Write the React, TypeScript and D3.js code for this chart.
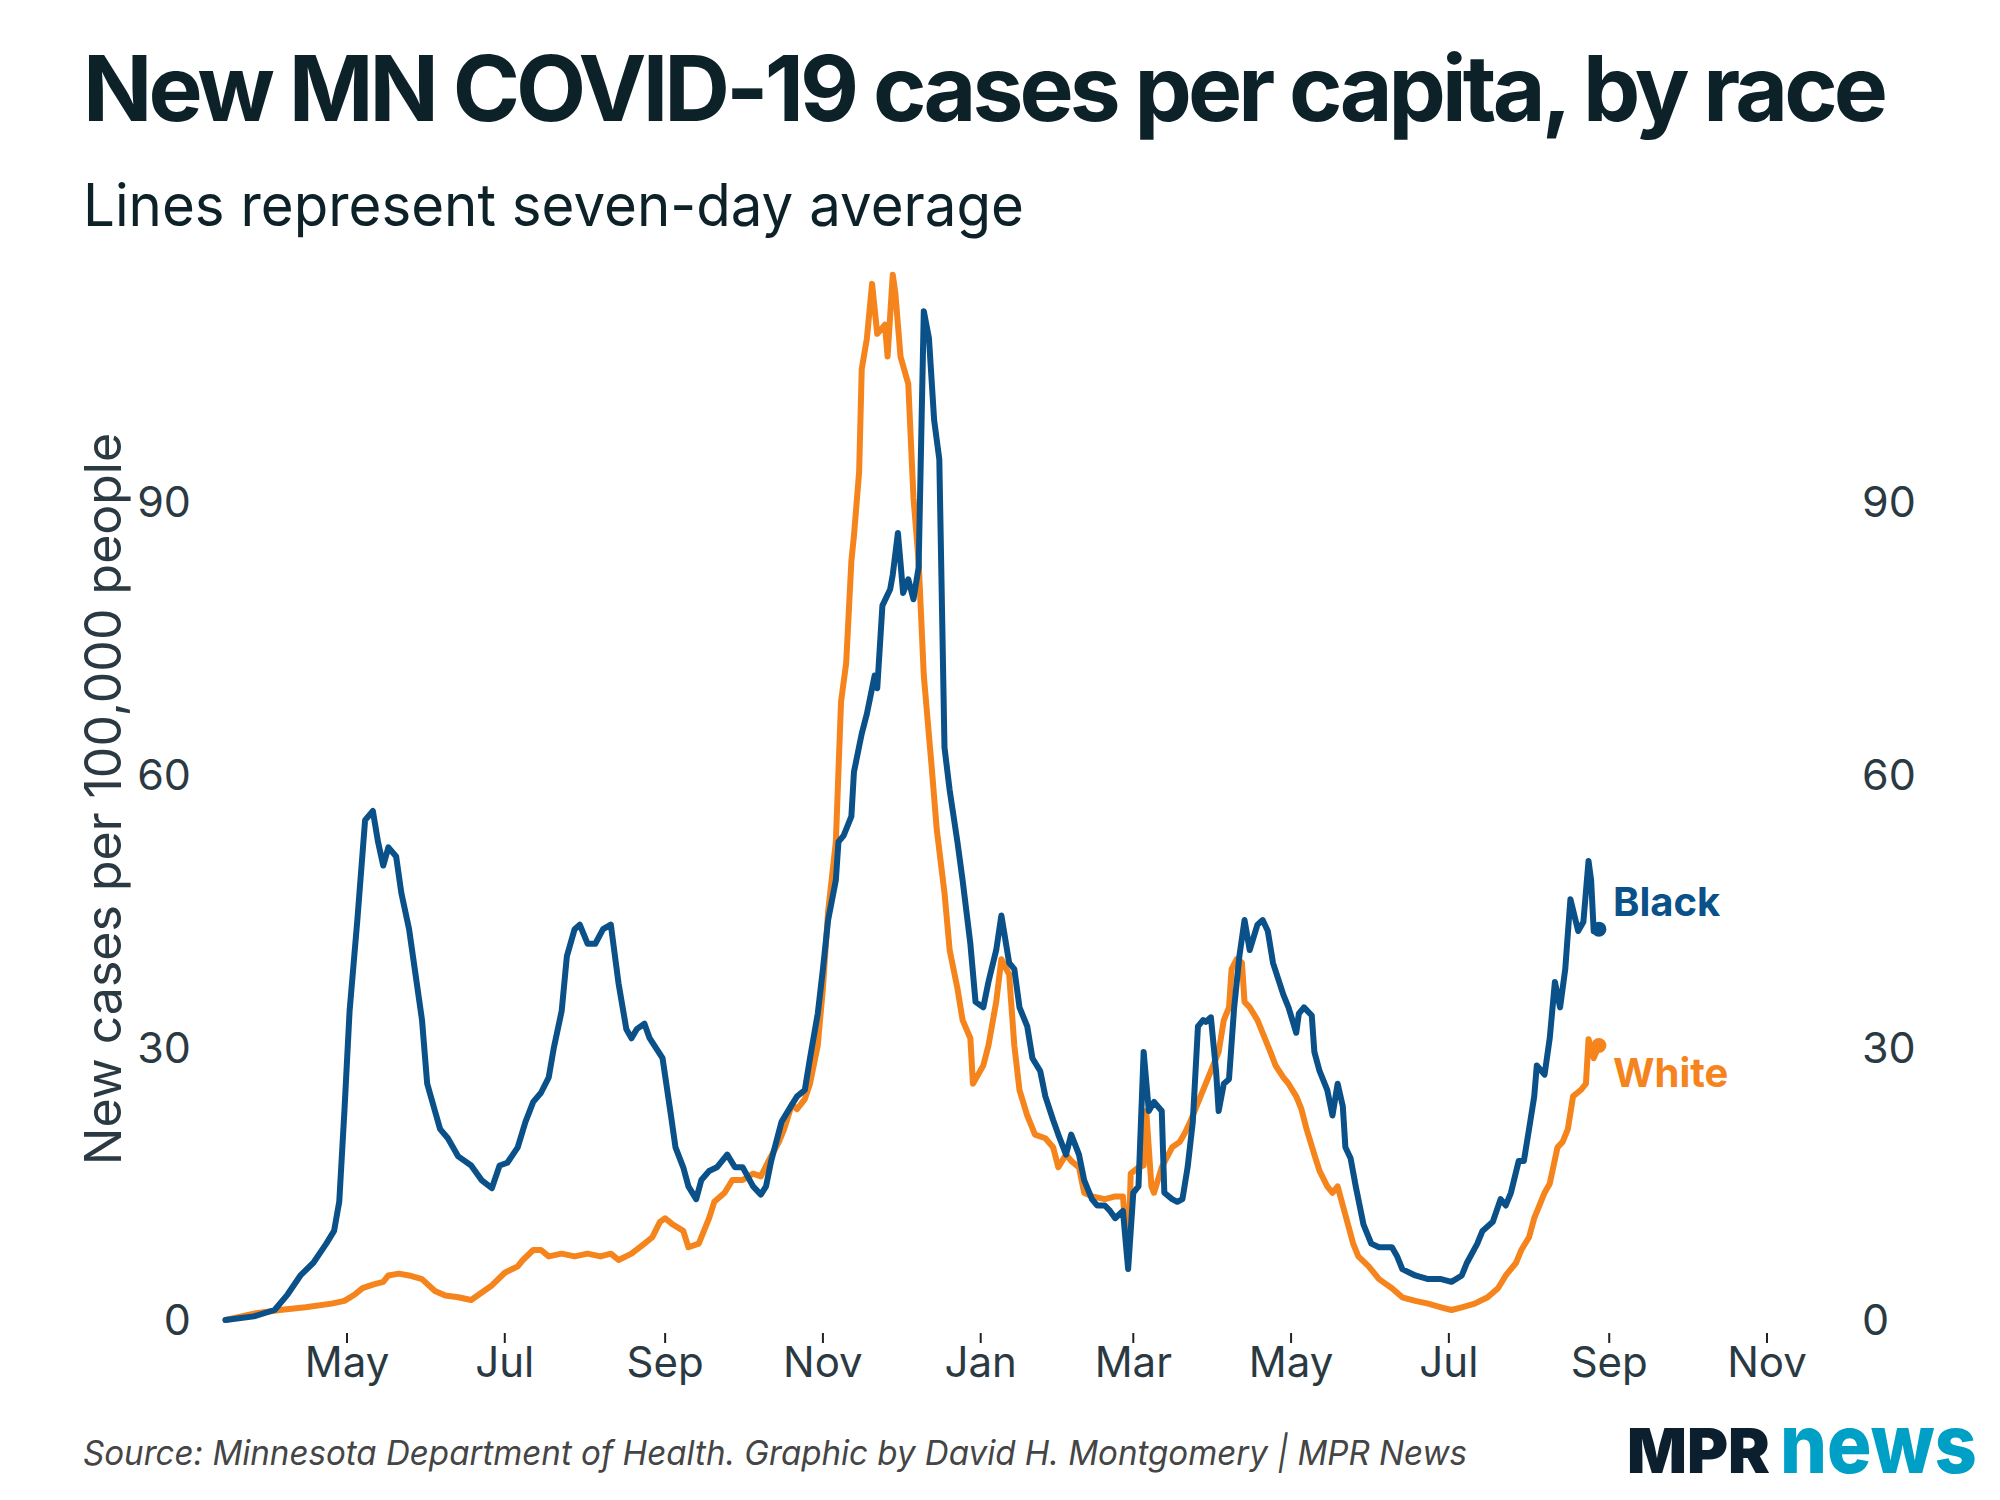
import React from "react";
import * as d3 from "d3";

// ---------- DATA ----------
const blackSeries: [string, number][] = [
  ["2020-03-15",0],["2020-03-26",0.4],["2020-04-03",1.1],["2020-04-08",2.8],["2020-04-13",4.9],["2020-04-18",6.3],["2020-04-23",8.4],["2020-04-26",9.8],["2020-04-28",13],["2020-04-30",23],["2020-05-02",34],["2020-05-05",44],["2020-05-08",55],["2020-05-11",56],["2020-05-13",52.6],["2020-05-15",50],["2020-05-17",52],["2020-05-20",51],["2020-05-22",47],["2020-05-25",43],["2020-05-27",39],["2020-05-30",33],["2020-06-01",26],["2020-06-04",23],["2020-06-06",21],["2020-06-09",20],["2020-06-13",18],["2020-06-18",17],["2020-06-22",15.4],["2020-06-26",14.5],["2020-06-29",17],["2020-07-02",17.3],["2020-07-06",19],["2020-07-09",21.8],["2020-07-12",24],["2020-07-15",25],["2020-07-18",26.7],["2020-07-20",30],["2020-07-23",34],["2020-07-25",40],["2020-07-28",43],["2020-07-30",43.5],["2020-08-02",41.4],["2020-08-05",41.4],["2020-08-08",43],["2020-08-11",43.5],["2020-08-14",37],["2020-08-17",32],["2020-08-19",31],["2020-08-21",32],["2020-08-24",32.6],["2020-08-26",31],["2020-08-31",28.8],["2020-09-03",23],["2020-09-05",19],["2020-09-08",16.8],["2020-09-10",14.7],["2020-09-13",13.3],["2020-09-15",15.4],["2020-09-18",16.4],["2020-09-21",16.8],["2020-09-25",18.2],["2020-09-28",16.8],["2020-10-01",16.8],["2020-10-05",14.7],["2020-10-08",13.8],["2020-10-10",14.7],["2020-10-12",17.5],["2020-10-16",21.8],["2020-10-20",23.7],["2020-10-22",24.6],["2020-10-25",25.3],["2020-10-27",28.8],["2020-10-30",33.7],["2020-11-01",38.6],["2020-11-03",44],["2020-11-06",48.4],["2020-11-07",52.6],["2020-11-09",53.3],["2020-11-12",55.4],["2020-11-13",60.3],["2020-11-16",64.5],["2020-11-18",66.7],["2020-11-21",70.9],["2020-11-22",69.5],["2020-11-24",78.6],["2020-11-27",80.4],["2020-11-28",82],["2020-11-30",86.6],["2020-12-02",80],["2020-12-04",81.5],["2020-12-06",79.3],["2020-12-08",82.8],["2020-12-10",111],["2020-12-12",108],["2020-12-14",99],["2020-12-16",94.7],["2020-12-18",63],["2020-12-20",58.3],["2020-12-23",52.6],["2020-12-25",48.4],["2020-12-28",41.4],["2020-12-30",35],["2021-01-02",34.4],["2021-01-04",37.2],["2021-01-07",40.7],["2021-01-09",44.5],["2021-01-12",39.3],["2021-01-14",38.6],["2021-01-16",34.4],["2021-01-19",32.3],["2021-01-21",28.8],["2021-01-24",27.4],["2021-01-26",24.6],["2021-01-29",22],["2021-01-31",20.4],["2021-02-03",18.2],["2021-02-05",20.4],["2021-02-08",18.2],["2021-02-10",15.4],["2021-02-13",13.3],["2021-02-15",12.6],["2021-02-18",12.6],["2021-02-20",12],["2021-02-22",11.2],["2021-02-25",12],["2021-02-27",5.6],["2021-03-01",14],["2021-03-03",14.7],["2021-03-05",29.5],["2021-03-07",23],["2021-03-09",24],["2021-03-12",23],["2021-03-13",14],["2021-03-16",13.3],["2021-03-18",13],["2021-03-20",13.3],["2021-03-22",16.8],["2021-03-24",21.8],["2021-03-26",32.3],["2021-03-28",33],["2021-03-29",32.8],["2021-03-31",33.3],["2021-04-02",27.4],["2021-04-03",23],["2021-04-05",26],["2021-04-07",26.5],["2021-04-09",34.4],["2021-04-11",40],["2021-04-13",44],["2021-04-15",40.7],["2021-04-18",43.5],["2021-04-20",44],["2021-04-22",42.8],["2021-04-24",39.3],["2021-04-28",35.8],["2021-04-30",34.4],["2021-05-03",31.6],["2021-05-04",33.7],["2021-05-06",34.4],["2021-05-09",33.5],["2021-05-10",29.5],["2021-05-12",27.4],["2021-05-15",25.3],["2021-05-17",22.5],["2021-05-19",26],["2021-05-21",23.5],["2021-05-22",19],["2021-05-24",17.8],["2021-05-26",14.7],["2021-05-29",10.5],["2021-06-01",8.4],["2021-06-04",8],["2021-06-09",8],["2021-06-11",7],["2021-06-13",5.6],["2021-06-18",4.9],["2021-06-23",4.5],["2021-06-28",4.5],["2021-07-02",4.2],["2021-07-06",4.9],["2021-07-08",6.3],["2021-07-12",8.4],["2021-07-14",9.8],["2021-07-18",10.8],["2021-07-21",13.3],["2021-07-23",12.6],["2021-07-25",14],["2021-07-28",17.5],["2021-07-30",17.5],["2021-08-01",21],["2021-08-03",24.6],["2021-08-04",28],["2021-08-07",27],["2021-08-09",31],["2021-08-11",37.2],["2021-08-13",34.4],["2021-08-15",38.6],["2021-08-16",42.5],["2021-08-17",46.3],["2021-08-20",42.8],["2021-08-22",43.8],["2021-08-24",50.5],["2021-08-25",48.4],["2021-08-26",42.8],["2021-08-28",43]
];

const whiteSeries: [string, number][] = [
  ["2020-03-15",0],["2020-03-26",0.7],["2020-04-05",1.1],["2020-04-15",1.4],["2020-04-25",1.8],["2020-04-30",2.1],["2020-05-04",2.8],["2020-05-07",3.5],["2020-05-11",3.9],["2020-05-15",4.2],["2020-05-17",4.9],["2020-05-21",5.1],["2020-05-25",4.9],["2020-05-30",4.5],["2020-06-04",3.2],["2020-06-08",2.7],["2020-06-13",2.5],["2020-06-18",2.2],["2020-06-21",2.8],["2020-06-26",3.8],["2020-07-01",5.2],["2020-07-06",5.9],["2020-07-08",6.6],["2020-07-12",7.7],["2020-07-15",7.7],["2020-07-18",7],["2020-07-23",7.3],["2020-07-28",7],["2020-08-02",7.3],["2020-08-07",7],["2020-08-11",7.3],["2020-08-14",6.6],["2020-08-19",7.3],["2020-08-24",8.4],["2020-08-27",9.1],["2020-08-30",10.8],["2020-09-01",11.2],["2020-09-04",10.5],["2020-09-08",9.8],["2020-09-10",8],["2020-09-14",8.4],["2020-09-18",11.2],["2020-09-20",13],["2020-09-24",14],["2020-09-27",15.4],["2020-10-01",15.4],["2020-10-05",16.1],["2020-10-08",15.8],["2020-10-11",17.5],["2020-10-15",19.6],["2020-10-17",21],["2020-10-20",23.7],["2020-10-22",23.2],["2020-10-25",24.3],["2020-10-27",26],["2020-10-30",30.2],["2020-11-01",36.5],["2020-11-03",44.9],["2020-11-06",52.6],["2020-11-08",68],["2020-11-10",72.3],["2020-11-12",83.5],["2020-11-13",86.3],["2020-11-15",93.3],["2020-11-16",104.6],["2020-11-18",108],["2020-11-20",114],["2020-11-22",108.5],["2020-11-25",109.5],["2020-11-26",106],["2020-11-28",115],["2020-11-29",113],["2020-12-01",106],["2020-12-04",103],["2020-12-06",90.5],["2020-12-08",83.5],["2020-12-10",70.9],["2020-12-13",61],["2020-12-15",54],["2020-12-18",47],["2020-12-20",40.7],["2020-12-23",36.5],["2020-12-25",33],["2020-12-28",31],["2020-12-29",26],["2021-01-02",28],["2021-01-04",30.2],["2021-01-07",35],["2021-01-09",39.7],["2021-01-12",38],["2021-01-14",30.2],["2021-01-16",25.3],["2021-01-19",22.5],["2021-01-22",20.4],["2021-01-26",20],["2021-01-29",19],["2021-01-31",16.8],["2021-02-03",18.2],["2021-02-05",17.5],["2021-02-08",16.8],["2021-02-10",14],["2021-02-13",13.6],["2021-02-18",13.3],["2021-02-22",13.6],["2021-02-25",13.6],["2021-02-27",6.3],["2021-02-28",16.1],["2021-03-03",16.8],["2021-03-05",17],["2021-03-06",23],["2021-03-08",14.7],["2021-03-09",14],["2021-03-12",16.8],["2021-03-16",19],["2021-03-19",19.6],["2021-03-21",20.6],["2021-03-23",21.8],["2021-03-27",24.6],["2021-03-30",26.7],["2021-04-03",29.5],["2021-04-05",33],["2021-04-07",34.4],["2021-04-08",38.6],["2021-04-10",39.7],["2021-04-12",39.3],["2021-04-13",35],["2021-04-15",34.4],["2021-04-18",33],["2021-04-20",31.6],["2021-04-23",29.5],["2021-04-25",28],["2021-04-28",26.7],["2021-04-30",26],["2021-05-03",24.6],["2021-05-05",23.2],["2021-05-07",21],["2021-05-10",18.2],["2021-05-12",16.4],["2021-05-15",14.7],["2021-05-17",14],["2021-05-19",14.7],["2021-05-21",12.6],["2021-05-23",10.5],["2021-05-25",8.4],["2021-05-27",7],["2021-05-31",5.9],["2021-06-04",4.5],["2021-06-09",3.5],["2021-06-13",2.5],["2021-06-18",2.1],["2021-06-23",1.8],["2021-06-28",1.4],["2021-07-02",1.1],["2021-07-06",1.4],["2021-07-11",1.8],["2021-07-16",2.5],["2021-07-20",3.5],["2021-07-23",4.9],["2021-07-27",6.3],["2021-07-29",7.7],["2021-08-01",9.1],["2021-08-03",11.2],["2021-08-07",14],["2021-08-09",15],["2021-08-12",19],["2021-08-14",19.6],["2021-08-16",21],["2021-08-18",24.6],["2021-08-21",25.3],["2021-08-23",26],["2021-08-24",30.9],["2021-08-26",28.8],["2021-08-28",30.2]
];

const xTickDates = ["2020-05-01","2020-07-01","2020-09-01","2020-11-01","2021-01-01","2021-03-01","2021-05-01","2021-07-01","2021-09-01","2021-11-01"];
const xTickLabels = ["May","Jul","Sep","Nov","Jan","Mar","May","Jul","Sep","Nov"];
const yTicks = [0, 30, 60, 90];

const TITLE = "New MN COVID-19 cases per capita, by race";
const SUBTITLE = "Lines represent seven-day average";
const Y_TITLE = "New cases per 100,000 people";
const SOURCE = "Source: Minnesota Department of Health. Graphic by David H. Montgomery | MPR News";

// ---------- STYLE ----------
const BLUE = "#0b5189";
const ORANGE = "#f5841c";
const DARK = "#0d2129";
const AXIS = "#2b3a42";
const FONT = "Inter, 'Noto Sans', sans-serif";

const parse = d3.timeParse("%Y-%m-%d");

export default function App() {
  const x = d3.scaleTime()
    .domain([parse("2020-05-01") as Date, parse("2021-11-01") as Date])
    .range([347, 1767]);
  const y = d3.scaleLinear().domain([0, 90]).range([1320, 502]);

  const toPts = (s: [string, number][]) => s.map(([d, v]) => ({ date: parse(d) as Date, value: v }));
  const black = toPts(blackSeries);
  const white = toPts(whiteSeries);
  const line = d3.line<{ date: Date; value: number }>()
    .x((d) => x(d.date))
    .y((d) => y(d.value));

  const bEnd = black[black.length - 1];
  const wEnd = white[white.length - 1];

  return (
    <svg width={2000} height={1500} style={{ position: "absolute", left: 0, top: 0, background: "#fff" }} fontFamily={FONT}>
      <rect width={2000} height={1500} fill="#fff" />
      <text x={83} y={121} fontSize={91} fontWeight={700} fill={DARK} letterSpacing={-3.9}>{TITLE}</text>
      <text x={83} y={226} fontSize={59} fill={DARK} textLength={941} lengthAdjust="spacingAndGlyphs">{SUBTITLE}</text>

      <text transform={`translate(121,799) rotate(-90)`} textAnchor="middle" fontSize={50} fill={AXIS}>{Y_TITLE}</text>

      {yTicks.map((t) => (
        <g key={t}>
          <text x={191} y={y(t)} dy="0.36em" textAnchor="end" fontSize={43} fill={AXIS}>{t}</text>
          <text x={1862} y={y(t)} dy="0.36em" textAnchor="start" fontSize={43} fill={AXIS}>{t}</text>
        </g>
      ))}

      {xTickDates.map((d, i) => {
        const xx = x(parse(d) as Date);
        return (
          <g key={d}>
            <line x1={xx} x2={xx} y1={1333} y2={1343} stroke="#222" strokeWidth={2} />
            <text x={xx} y={1377} textAnchor="middle" fontSize={42} fill={AXIS}>{xTickLabels[i]}</text>
          </g>
        );
      })}

      <path d={line(white) || ""} fill="none" stroke={ORANGE} strokeWidth={6} strokeLinejoin="round" strokeLinecap="round" />
      <path d={line(black) || ""} fill="none" stroke={BLUE} strokeWidth={6} strokeLinejoin="round" strokeLinecap="round" />
      <circle cx={x(bEnd.date)} cy={y(bEnd.value)} r={7.5} fill={BLUE} />
      <circle cx={x(wEnd.date)} cy={y(wEnd.value)} r={7.5} fill={ORANGE} />

      <text x={1613} y={916} fontSize={40} fontWeight={700} fill={BLUE}>Black</text>
      <text x={1613} y={1087} fontSize={40} fontWeight={700} fill={ORANGE}>White</text>

      <text x={83} y={1465} fontSize={34} fontStyle="italic" fill="#454545" textLength={1384} lengthAdjust="spacingAndGlyphs">{SOURCE}</text>

      <text x={1627} y={1473} fontSize={62} fontWeight={900} fill="#0b1f2e" textLength={143} lengthAdjust="spacingAndGlyphs">MPR</text>
      <text x={1780} y={1473} fontSize={82} fontWeight={800} fill="#00a0c6" textLength={197} lengthAdjust="spacingAndGlyphs">news</text>
    </svg>
  );
}
